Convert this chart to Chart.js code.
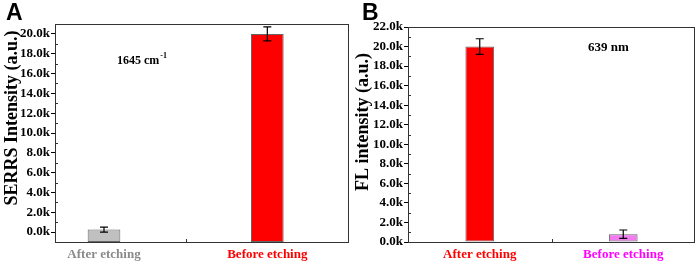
<!DOCTYPE html>
<html>
<head>
<meta charset="utf-8">
<script src="https://cdn.jsdelivr.net/npm/chart.js@4"></script>
<style>
    body { margin: 0; background: #fff; width: 699px; height: 263px; position: relative; overflow: hidden; }
    .panel { position: absolute; top: 0; height: 263px; }
    #panelA { left: 0; width: 350px; }
    #panelB { left: 350px; width: 349px; }
    .letter { position: absolute; top: -1px; font: bold 23px "Liberation Sans", Arial, sans-serif; color: #000; }
</style>
</head>
<body>
<div class="panel" id="panelA"><canvas id="chartA" width="350" height="263"></canvas></div>
<div class="panel" id="panelB"><canvas id="chartB" width="349" height="263"></canvas></div>
<div class="letter" style="left:6px">A</div>
<div class="letter" style="left:362px">B</div>
<script>
// panel A - SERRS
const labelsA = ['After etching', 'Before etching'];
const valuesA = [250, 20000];
const errorsA = [250, 700];
const barColorsA = ['#c0c0c0', '#ff0000'];
const labelColorsA = ['#8a8a8a', '#ff0000'];
const yTicksA = [0, 2000, 4000, 6000, 8000, 10000, 12000, 14000, 16000, 18000, 20000];

// panel B - FL
const labelsB = ['After etching', 'Before etching'];
const valuesB = [20000, 800];
const errorsB = [800, 430];
const barColorsB = ['#ff0000', '#f07cf0'];
const labelColorsB = ['#ff0000', '#ff00ff'];
const yTicksB = [0, 2000, 4000, 6000, 8000, 10000, 12000, 14000, 16000, 18000, 20000, 22000];

const serif = '"Liberation Serif", "Times New Roman", serif';

// error bars, frame, minor ticks, axis title and note
const extras = {
    id: 'extras',
    afterDatasetsDraw(chart, args, opts) {
        const ctx = chart.ctx;
        const y = chart.scales.y;
        const x = chart.scales.x;
        const area = chart.chartArea;
        const meta = chart.getDatasetMeta(0);
        ctx.save();
        ctx.strokeStyle = '#000';
        ctx.lineWidth = 1.2;
        meta.data.forEach((bar, i) => {
            const v = chart.data.datasets[0].data[i].y;
            const e = opts.errors[i];
            const top = y.getPixelForValue(v + e);
            const bot = y.getPixelForValue(v - e);
            ctx.beginPath();
            ctx.moveTo(bar.x, top); ctx.lineTo(bar.x, bot);
            ctx.moveTo(bar.x - 4, top); ctx.lineTo(bar.x + 4, top);
            ctx.moveTo(bar.x - 4, bot); ctx.lineTo(bar.x + 4, bot);
            ctx.stroke();
        });

        // frame
        ctx.lineWidth = 1;
        ctx.strokeStyle = '#333';
        ctx.strokeRect(area.left + 0.5, area.top + 0.5, area.right - area.left - 1, area.bottom - area.top);

        // minor ticks inside
        ctx.beginPath();
        for (let v = 1000; v < y.max; v += 2000) {
            const py = Math.round(y.getPixelForValue(v)) + 0.5;
            ctx.moveTo(area.left, py); ctx.lineTo(area.left + 3, py);
        }
        const mx = Math.round(x.getPixelForValue(1.5)) + 0.5;
        ctx.moveTo(mx, area.bottom); ctx.lineTo(mx, area.bottom - 3);
        ctx.stroke();

        // y title
        ctx.fillStyle = '#000';
        ctx.font = 'bold 18px ' + serif;
        ctx.textAlign = 'center';
        ctx.textBaseline = 'middle';
        ctx.translate(opts.titleX, opts.titleY);
        ctx.rotate(-Math.PI / 2);
        ctx.fillText(opts.title, 0, 0);
        ctx.setTransform(1, 0, 0, 1, 0, 0);

        // note
        ctx.textAlign = 'left';
        ctx.textBaseline = 'alphabetic';
        ctx.font = 'bold ' + opts.noteSize + 'px ' + serif;
        ctx.fillText(opts.note, opts.noteX, opts.noteY);
        if (opts.sup) {
            const w = ctx.measureText(opts.note).width;
            ctx.font = 'bold 8px ' + serif;
            ctx.fillText(opts.sup, opts.noteX + w + 1, opts.noteY - 6);
        }
        ctx.restore();
    }
};

function makeChart(id, labels, values, errors, barColors, labelColors, yTicks, cfg) {
    return new Chart(document.getElementById(id), {
        type: 'bar',
        data: {
            datasets: [{
                data: values.map((v, i) => ({ x: i + 1, y: v })),
                base: cfg.yMin,
                backgroundColor: barColors,
                borderColor: '#666',
                borderWidth: 1,
                borderSkipped: false,
                barPercentage: 0.2,
                categoryPercentage: 1
            }]
        },
        options: {
            responsive: false,
            animation: false,
            layout: { padding: cfg.padding },
            plugins: {
                legend: { display: false },
                tooltip: { enabled: false },
                extras: {
                    errors: errors,
                    title: cfg.title, titleX: cfg.titleX, titleY: cfg.titleY,
                    note: cfg.note, sup: cfg.sup, noteX: cfg.noteX, noteY: cfg.noteY, noteSize: cfg.noteSize
                }
            },
            scales: {
                x: {
                    type: 'linear',
                    offset: false,
                    min: cfg.xMin, max: 2.5,
                    afterBuildTicks: s => { s.ticks = [1, 2].map(v => ({ value: v })); },
                    afterFit: s => { s.height = 21; s.paddingLeft = 0; s.paddingRight = 0; },
                    grid: { display: false, drawTicks: false, offset: false },
                    border: { display: false },
                    ticks: {
                        padding: 5,
                        autoSkip: false,
                        maxRotation: 0,
                        font: { family: serif, size: 13, weight: 'bold' },
                        color: c => labelColors[c.index],
                        callback: (v, i) => labels[i]
                    }
                },
                y: {
                    min: cfg.yMin, max: cfg.yMax,
                    afterBuildTicks: s => { s.ticks = yTicks.map(v => ({ value: v })); },
                    afterFit: s => { s.width = cfg.yWidth; s.paddingTop = 0; s.paddingBottom = 0; },
                    grid: { drawOnChartArea: false, tickLength: 4, color: '#000' },
                    border: { display: false },
                    ticks: {
                        padding: 1,
                        color: '#000',
                        font: { family: serif, size: 13, weight: 'bold' },
                        callback: v => (v / 1000).toFixed(1) + 'k'
                    }
                }
            }
        },
        plugins: [extras]
    });
}

makeChart('chartA', labelsA, valuesA, errorsA, barColorsA, labelColorsA, yTicksA, {
    padding: { top: 24, right: 1, bottom: 0, left: 0 },
    xMin: 0.7, yMin: -1000, yMax: 21000, yWidth: 55,
    title: 'SERRS Intensity (a.u.)', titleX: 12, titleY: 118,
    note: '1645 cm', sup: '-1', noteX: 117, noteY: 64, noteSize: 12
});

makeChart('chartB', labelsB, valuesB, errorsB, barColorsB, labelColorsB, yTicksB, {
    padding: { top: 27, right: 4, bottom: 0, left: 0 },
    xMin: 0.5, yMin: 0, yMax: 22000, yWidth: 58,
    title: 'FL intensity (a.u.)', titleX: 13, titleY: 122,
    note: '639 nm', sup: '', noteX: 238, noteY: 51, noteSize: 13
});
</script>
</body>
</html>
